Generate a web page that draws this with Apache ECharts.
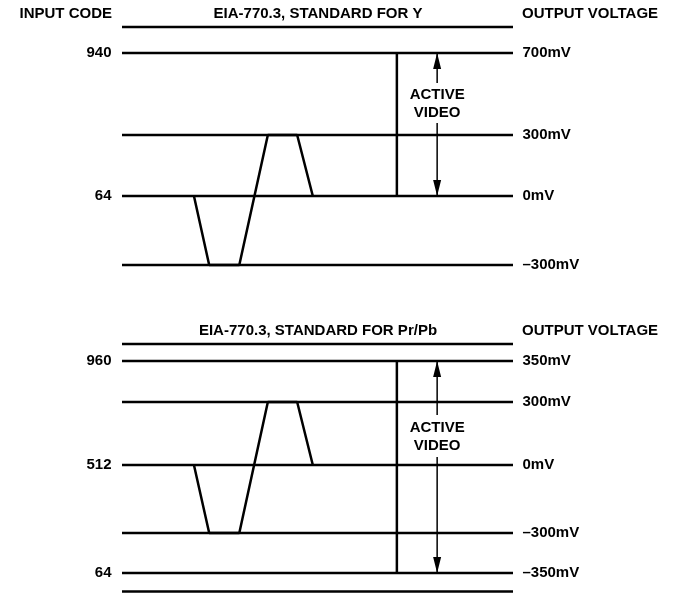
<!DOCTYPE html>
<html><head><meta charset="utf-8">
<script src="https://cdn.jsdelivr.net/npm/echarts@6/dist/echarts.min.js"></script>
<style>html,body{margin:0;padding:0;background:#fff}#c{width:678px;height:600px}</style>
</head><body><div id="c"></div>
<script>
// ---- Top panel: EIA-770.3, standard for Y ----
const yCodes   = ['', '940', '', '64', ''];
const yVolts   = ['', '700mV', '300mV', '0mV', '\u2013300mV'];
const yLevels  = [169, 143, 61, 0, -69];          // schematic level heights (diagram units)
const yWave    = [0, -69, -69, 61, 61, 0];        // waveform levels
const yActive  = {top: 143, bottom: 0, gapTop: 113, gapBottom: 73, text: 92};

// ---- Bottom panel: EIA-770.3, standard for Pr/Pb ----
const cCodes   = ['', '960', '', '512', '', '64', ''];
const cVolts   = ['', '350mV', '300mV', '0mV', '\u2013300mV', '\u2013350mV', ''];
const cLevels  = [121, 104, 63, 0, -68, -108, -126.5];
const cWave    = [0, -68, -68, 63, 63, 0];
const cActive  = {top: 104, bottom: -108, gapTop: 50, gapBottom: 8, text: 28.5};

// shared time axis (0..100)
const waveTime   = [18.4, 22.3, 30, 37.3, 44.8, 48.8];
const markerTime = 70.3;
const arrowTime  = 80.6;
const lineSpan   = [0, 100];

const FONT = "'Liberation Sans', Arial, Helvetica, sans-serif";
const T = {fontFamily: FONT, fontWeight: 'bold', fontSize: 15, color: '#000'};
const HIDDEN = {color: 'rgba(0,0,0,0)', opacity: 1};

function panelSeries(g, codes, volts, levels, wave, act) {
  const s = [];
  const base = {xAxisIndex: g, yAxisIndex: g, silent: true, animation: false, clip: false};
  levels.forEach(h => {
    s.push(Object.assign({type: 'line', symbol: 'none',
      lineStyle: {color: '#000', width: 2.5},
      data: [[lineSpan[0], h], [lineSpan[1], h]]}, base));
  });
  // labels
  s.push(Object.assign({type: 'scatter', symbolSize: 1, itemStyle: HIDDEN,
    label: Object.assign({show: true, position: 'left', distance: 10, opacity: 1, formatter: p => p.data.name}, T),
    data: levels.map((h, i) => ({name: codes[i], value: [lineSpan[0], h]})).filter(d => d.name)}, base));
  s.push(Object.assign({type: 'scatter', symbolSize: 1, itemStyle: HIDDEN,
    label: Object.assign({show: true, position: 'right', distance: 9, opacity: 1, formatter: p => p.data.name}, T),
    data: levels.map((h, i) => ({name: volts[i], value: [lineSpan[1], h]})).filter(d => d.name)}, base));
  // waveform
  s.push(Object.assign({type: 'line', symbol: 'none', lineStyle: {color: '#000', width: 2.5},
    data: waveTime.map((t, i) => [t, wave[i]])}, base));
  // marker line
  s.push(Object.assign({type: 'line', symbol: 'none', lineStyle: {color: '#000', width: 2.5},
    data: [[markerTime, act.top], [markerTime, act.bottom]]}, base));
  // arrows
  s.push(Object.assign({type: 'line', lineStyle: {color: '#000', width: 1.5}, itemStyle: {color: '#000', opacity: 1},
    data: [{value: [arrowTime, act.gapTop], symbol: 'none'},
           {value: [arrowTime, act.top], symbol: 'triangle', symbolSize: [8, 16], symbolOffset: [0, 8]}]}, base));
  s.push(Object.assign({type: 'line', lineStyle: {color: '#000', width: 1.5}, itemStyle: {color: '#000', opacity: 1},
    data: [{value: [arrowTime, act.gapBottom], symbol: 'none'},
           {value: [arrowTime, act.bottom], symbol: 'triangle', symbolSize: [8, 16], symbolRotate: 180, symbolOffset: [0, -8]}]}, base));
  // text
  s.push(Object.assign({type: 'scatter', symbolSize: 1, itemStyle: HIDDEN,
    label: Object.assign({show: true, position: 'inside', align: 'center', verticalAlign: 'middle',
      lineHeight: 18, opacity: 1, formatter: 'ACTIVE\nVIDEO'}, T),
    data: [[arrowTime, act.text]]}, base));
  return s;
}

const chart = echarts.init(document.getElementById('c'), null, {renderer: 'canvas'});
chart.setOption({
  backgroundColor: '#fff',
  animation: false,
  title: [
    {text: 'INPUT CODE', left: 112, top: 14, textAlign: 'right', textVerticalAlign: 'middle', padding: 0, textStyle: T},
    {text: 'EIA-770.3, STANDARD FOR Y', left: 318, top: 14, textAlign: 'center', textVerticalAlign: 'middle', padding: 0, textStyle: T},
    {text: 'OUTPUT VOLTAGE', left: 522, top: 14, textAlign: 'left', textVerticalAlign: 'middle', padding: 0, textStyle: T},
    {text: 'EIA-770.3, STANDARD FOR Pr/Pb', left: 318, top: 331, textAlign: 'center', textVerticalAlign: 'middle', padding: 0, textStyle: T},
    {text: 'OUTPUT VOLTAGE', left: 522, top: 331, textAlign: 'left', textVerticalAlign: 'middle', padding: 0, textStyle: T}
  ],
  grid: [
    {left: 122, right: 165, top: 27, height: 238},
    {left: 122, right: 165, top: 344, height: 247.5}
  ],
  xAxis: [
    {type: 'value', gridIndex: 0, min: 0, max: 100, show: false},
    {type: 'value', gridIndex: 1, min: 0, max: 100, show: false}
  ],
  yAxis: [
    {type: 'value', gridIndex: 0, min: -69, max: 169, show: false},
    {type: 'value', gridIndex: 1, min: -126.5, max: 121, show: false}
  ],
  series: [].concat(
    panelSeries(0, yCodes, yVolts, yLevels, yWave, yActive),
    panelSeries(1, cCodes, cVolts, cLevels, cWave, cActive)
  )
});
</script></body></html>
